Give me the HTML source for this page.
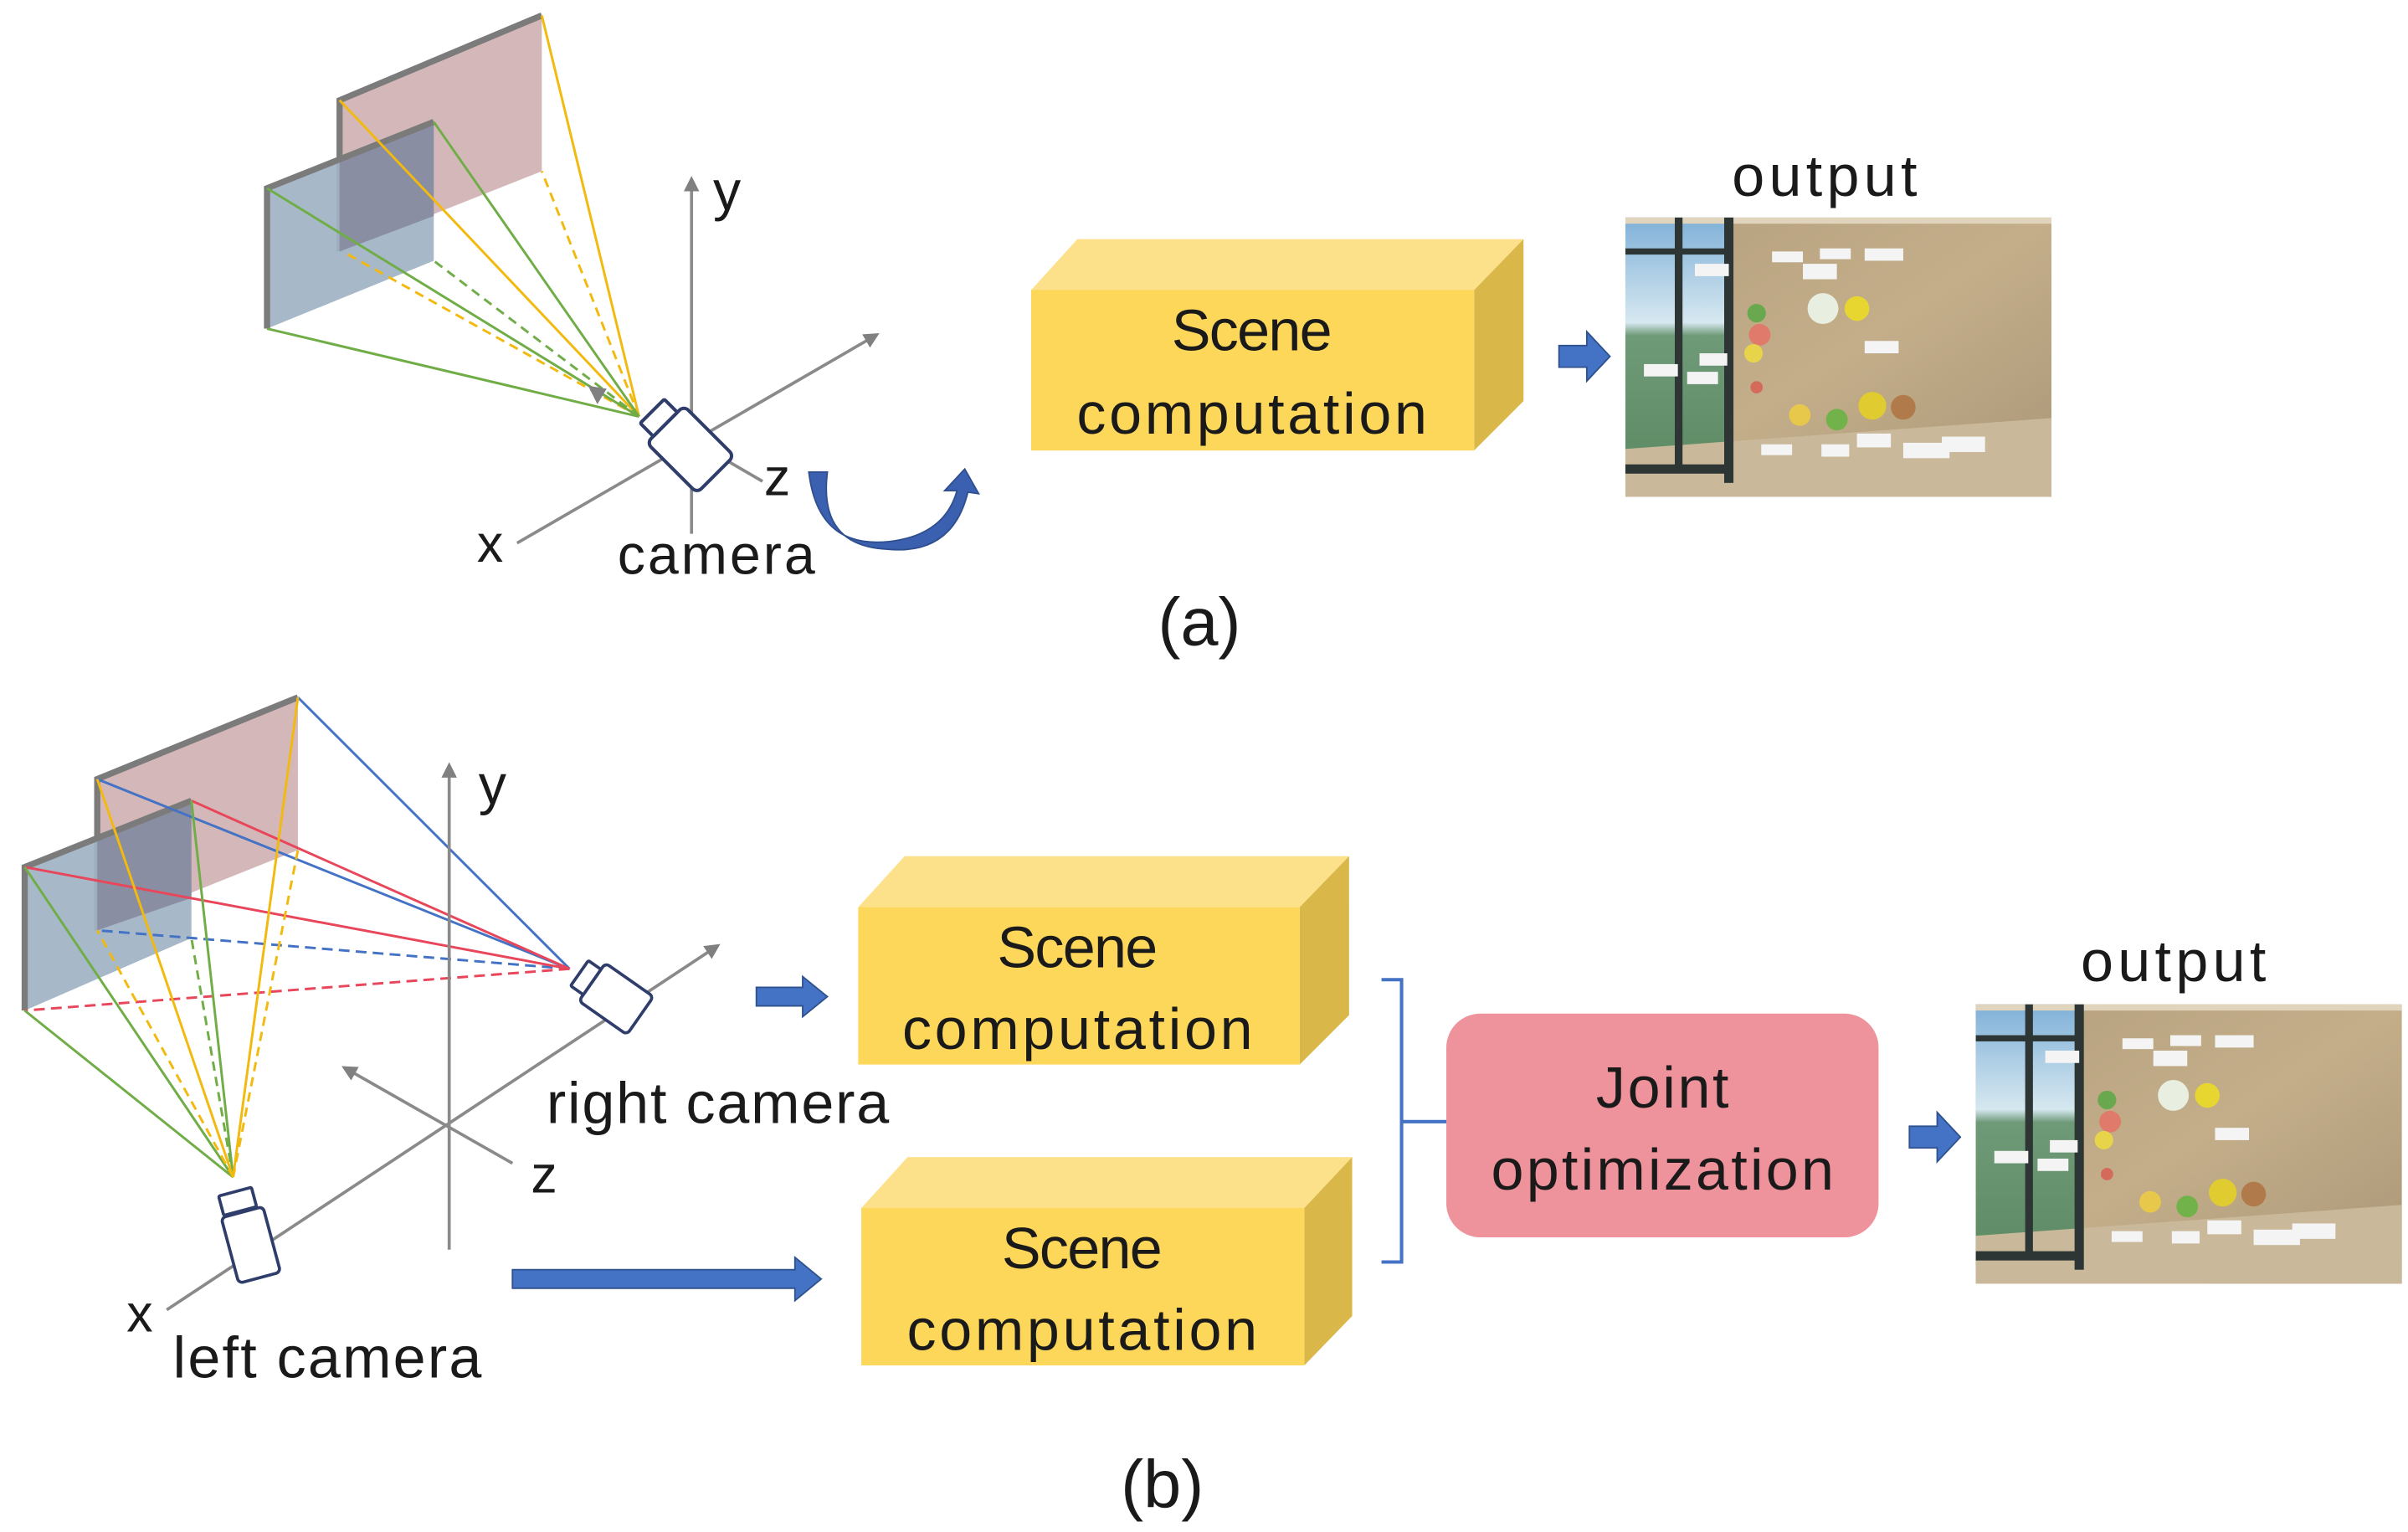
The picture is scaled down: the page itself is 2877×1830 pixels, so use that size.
<!DOCTYPE html>
<html><head><meta charset="utf-8"><style>html,body{margin:0;padding:0;background:#fff}svg{display:block}text{font-family:"Liberation Sans","DejaVu Sans",sans-serif;fill:#1a1a1a}</style></head>
<body>
<svg width="2877" height="1830" viewBox="0 0 1560 993" preserveAspectRatio="none" xmlns="http://www.w3.org/2000/svg">
<defs>
<linearGradient id="sky" x1="0" y1="0" x2="0" y2="1"><stop offset="0" stop-color="#7fb0d8"/><stop offset="0.4" stop-color="#d6e8f0"/><stop offset="0.45" stop-color="#6f9a78"/><stop offset="1" stop-color="#5c8a62"/></linearGradient>
<linearGradient id="wall" x1="0" y1="0" x2="1" y2="1"><stop offset="0" stop-color="#b5a07e"/><stop offset="0.5" stop-color="#c4ae8a"/><stop offset="1" stop-color="#a99677"/></linearGradient>
<g id="outimg">
<rect x="0" y="0" width="276" height="181" fill="url(#wall)"/>
<rect x="0" y="0" width="66" height="170" fill="url(#sky)"/>
<polygon points="0,150 276,130 276,181 0,181" fill="#c9b89a"/>
<rect x="0" y="0" width="276" height="4" fill="#e0d4bc"/>
<rect x="32" y="0" width="5" height="165" fill="#2d3535"/>
<rect x="64" y="0" width="6" height="172" fill="#2d3535"/>
<rect x="0" y="20" width="66" height="4" fill="#2d3535"/>
<rect x="0" y="160" width="66" height="6" fill="#2d3535"/>
<circle cx="85" cy="62" r="6" fill="#6aa84f"/><circle cx="87" cy="76" r="7" fill="#e07a6a"/>
<circle cx="83" cy="88" r="6" fill="#e8d44a"/><circle cx="128" cy="59" r="10" fill="#e8eee0"/>
<circle cx="150" cy="59" r="8" fill="#e8d630"/><circle cx="113" cy="128" r="7" fill="#e8c84a"/>
<circle cx="137" cy="131" r="7" fill="#72b24a"/><circle cx="160" cy="122" r="9" fill="#e0cc30"/>
<circle cx="180" cy="123" r="8" fill="#b07a4a"/><circle cx="85" cy="110" r="4" fill="#d46a5a"/>
<g fill="#f4f4f4"><rect x="45" y="30" width="22" height="8"/><rect x="95" y="22" width="20" height="7"/><rect x="126" y="20" width="20" height="7"/><rect x="155" y="20" width="25" height="8"/><rect x="115" y="30" width="22" height="10"/><rect x="155" y="80" width="22" height="8"/><rect x="40" y="100" width="20" height="8"/><rect x="12" y="95" width="22" height="8"/><rect x="48" y="88" width="18" height="8"/><rect x="180" y="146" width="30" height="10"/><rect x="205" y="142" width="28" height="10"/><rect x="150" y="140" width="22" height="9"/><rect x="88" y="147" width="20" height="7"/><rect x="127" y="147" width="18" height="8"/></g>
</g>
<marker id="ga" markerWidth="10" markerHeight="10" refX="8" refY="5" orient="auto" markerUnits="userSpaceOnUse"><path d="M0,0 L10,5 L0,10 z" fill="#808080"/></marker>
</defs>

<!-- (a) panels -->
<polygon points="220,65 351,10 351,111 220,163" fill="#d4b8b9"/>
<polyline points="220,163 220,65 351,10" fill="none" stroke="#7b7b7b" stroke-width="4"/>
<polygon points="173,122 281,79 281,169 173,213" fill="#9fb2c4" fill-opacity="0.92"/>
<polygon points="220,103 281,79 281,140 220,163" fill="#8a8ea2"/>
<polyline points="173,213 173,122 281,79" fill="none" stroke="#7b7b7b" stroke-width="4"/>
<g stroke-width="1.6" fill="none">
<line x1="414" y1="270" x2="220" y2="65" stroke="#f2b90f"/>
<line x1="414" y1="270" x2="351" y2="10" stroke="#f2b90f"/>
<line x1="414" y1="270" x2="351" y2="111" stroke="#f2b90f" stroke-dasharray="6,4"/>
<line x1="414" y1="270" x2="222" y2="163" stroke="#f2b90f" stroke-dasharray="6,4"/>
<line x1="414" y1="270" x2="173" y2="122" stroke="#70ad47"/>
<line x1="414" y1="270" x2="281" y2="79" stroke="#70ad47"/>
<line x1="414" y1="270" x2="173" y2="213" stroke="#70ad47"/>
<line x1="414" y1="270" x2="281" y2="169" stroke="#70ad47" stroke-dasharray="6,4"/>
</g>
<polygon points="381,250 393,252 387,262" fill="#808080"/>
<g stroke="#8a8a8a" stroke-width="2" fill="none">
<line x1="448" y1="346" x2="448" y2="116" marker-end="url(#ga)"/>
<line x1="335" y1="352" x2="568" y2="217" marker-end="url(#ga)"/>
<line x1="470" y1="298" x2="494" y2="312"/>
</g>
<text x="462" y="136" font-size="36">y</text>
<text x="495" y="321" font-size="34">z</text>
<text x="309" y="364" font-size="34">x</text>
<text x="464" y="372" font-size="36" text-anchor="middle" textLength="128">camera</text>
<g transform="translate(448,292) rotate(45)" fill="#fff" stroke="#2f3d6b" stroke-width="2.2">
<rect x="-24" y="-17" width="46" height="34" rx="4"/>
<rect x="-36" y="-11" width="12" height="22" rx="1"/>
</g>
<path d="M524,306 Q530,356 576,351 Q612,347 620,318 L612,318 L625,304 L634,320 L627,319 Q617,360 575,356 Q530,354 536,306 Z" fill="#3b60b0" stroke="#2f4f8f" stroke-width="1"/>

<polygon points="668,188 698,155 987,155 955,188" fill="#fde18a"/>
<polygon points="955,188 987,155 987,260 955,292" fill="#d9b849"/>
<rect x="668" y="188" width="287" height="104" fill="#fcd75a"/>
<text x="811" y="227" font-size="38" text-anchor="middle" textLength="104">Scene</text>
<text x="811" y="281" font-size="38" text-anchor="middle" textLength="227">computation</text>
<polygon points="1010,224 1028,224 1028,215 1043,231 1028,247 1028,238 1010,238" fill="#4472c4" stroke="#2f528f" stroke-width="1"/>
<text x="1182" y="127" font-size="38" text-anchor="middle" textLength="120">output</text>
<use href="#outimg" transform="translate(1053,141)"/>
<text x="777" y="418" font-size="44" text-anchor="middle">(a)</text>

<!-- (b) panels -->
<polygon points="63,505 193,452 193,551 63,603" fill="#d4b8b9"/>
<polyline points="63,603 63,505 193,452" fill="none" stroke="#7b7b7b" stroke-width="4"/>
<polygon points="16,562 124,519 124,608 16,655" fill="#9fb2c4" fill-opacity="0.92"/>
<polygon points="63,543 124,519 124,582 63,603" fill="#8a8ea2"/>
<polyline points="16,655 16,562 124,519" fill="none" stroke="#7b7b7b" stroke-width="4"/>
<g stroke-width="1.6" fill="none">
<line x1="369" y1="628" x2="193" y2="452" stroke="#4472c4"/>
<line x1="369" y1="628" x2="63" y2="505" stroke="#4472c4"/>
<line x1="369" y1="628" x2="63" y2="603" stroke="#4472c4" stroke-dasharray="7,4"/>
<line x1="369" y1="628" x2="16" y2="562" stroke="#e8465a"/>
<line x1="369" y1="628" x2="124" y2="519" stroke="#e8465a"/>
<line x1="369" y1="628" x2="16" y2="655" stroke="#e8465a" stroke-dasharray="7,4"/>
<line x1="151" y1="763" x2="16" y2="562" stroke="#70ad47"/>
<line x1="151" y1="763" x2="16" y2="655" stroke="#70ad47"/>
<line x1="151" y1="763" x2="124" y2="519" stroke="#70ad47"/>
<line x1="151" y1="763" x2="124" y2="608" stroke="#70ad47" stroke-dasharray="6,4"/>
<line x1="151" y1="763" x2="63" y2="505" stroke="#f2b90f"/>
<line x1="151" y1="763" x2="193" y2="452" stroke="#f2b90f"/>
<line x1="151" y1="763" x2="193" y2="551" stroke="#f2b90f" stroke-dasharray="6,4"/>
<line x1="151" y1="763" x2="63" y2="603" stroke="#f2b90f" stroke-dasharray="6,4"/>
</g>
<g stroke="#8a8a8a" stroke-width="2" fill="none">
<line x1="291" y1="810" x2="291" y2="496" marker-end="url(#ga)"/>
<line x1="108" y1="849" x2="465" y2="613" marker-end="url(#ga)"/>
<line x1="332" y1="754" x2="223" y2="692" marker-end="url(#ga)"/>
</g>
<text x="310" y="521" font-size="36">y</text>
<text x="344" y="773" font-size="34">z</text>
<text x="82" y="863" font-size="34">x</text>
<text x="465" y="728" font-size="38" text-anchor="middle" textLength="222">right camera</text>
<text x="212" y="893" font-size="38" text-anchor="middle" textLength="200">left camera</text>
<g transform="translate(400,648) rotate(35)" fill="#fff" stroke="#2f3d6b" stroke-width="2">
<rect x="-20" y="-15" width="38" height="30" rx="3"/>
<rect x="-30" y="-10" width="10" height="20" rx="1"/>
</g>
<g transform="translate(162,805) rotate(-15)" fill="#fff" stroke="#2f3d6b" stroke-width="2">
<rect x="-14" y="-20" width="28" height="44" rx="3"/>
<rect x="-12" y="-34" width="22" height="13" rx="1"/>
</g>
<polygon points="490,640 520,640 520,633 536,646 520,659 520,652 490,652" fill="#4472c4" stroke="#2f528f" stroke-width="1"/>
<polygon points="332,823 515,823 515,815 532,829 515,843 515,835 332,835" fill="#4472c4" stroke="#2f528f" stroke-width="1"/>
<polygon points="556,588 586,555 874,555 842,588" fill="#fde18a"/>
<polygon points="842,588 874,555 874,658 842,690" fill="#d9b849"/>
<rect x="556" y="588" width="286" height="102" fill="#fcd75a"/>
<text x="698" y="627" font-size="38" text-anchor="middle" textLength="104">Scene</text>
<text x="698" y="680" font-size="38" text-anchor="middle" textLength="227">computation</text>
<polygon points="558,783 588,750 876,750 845,783" fill="#fde18a"/>
<polygon points="845,783 876,750 876,853 845,885" fill="#d9b849"/>
<rect x="558" y="783" width="287" height="102" fill="#fcd75a"/>
<text x="701" y="822" font-size="38" text-anchor="middle" textLength="104">Scene</text>
<text x="701" y="875" font-size="38" text-anchor="middle" textLength="227">computation</text>
<path d="M895,635 L908,635 L908,818 L895,818 M908,727 L937,727" fill="none" stroke="#4472c4" stroke-width="2.2"/>
<rect x="937" y="657" width="280" height="145" rx="22" fill="#ee929b"/>
<text x="1077" y="718" font-size="38" text-anchor="middle" textLength="86">Joint</text>
<text x="1077" y="771" font-size="38" text-anchor="middle" textLength="222">optimization</text>
<polygon points="1237,730 1255,730 1255,721 1270,737 1255,753 1255,744 1237,744" fill="#4472c4" stroke="#2f528f" stroke-width="1"/>
<text x="1408" y="636" font-size="38" text-anchor="middle" textLength="120">output</text>
<use href="#outimg" transform="translate(1280,651)"/>
<text x="753" y="977" font-size="44" text-anchor="middle">(b)</text>
</svg>
</body></html>
